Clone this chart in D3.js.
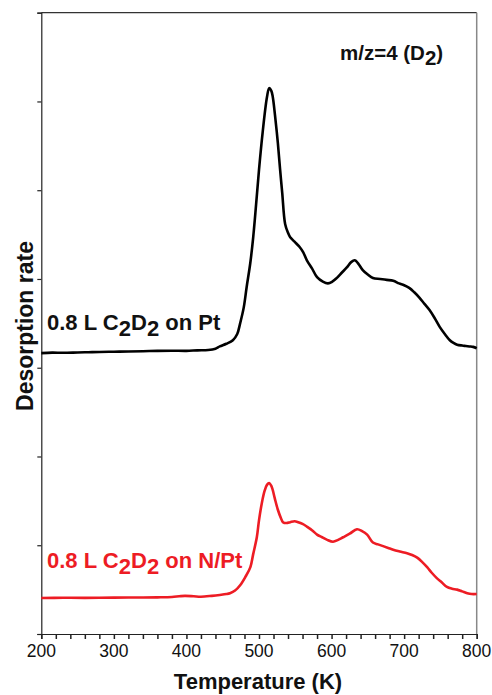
<!DOCTYPE html>
<html><head><meta charset="utf-8">
<script src="https://cdn.jsdelivr.net/npm/d3@7"></script>
<style>body{margin:0;background:#fff}svg{display:block}text{font-family:"Liberation Sans",Arial,sans-serif}</style>
</head><body><svg id="c" width="492" height="695"></svg>
<script>
// Temperature (K)
const blackT = [200,215,230,250,265,280,300,320,340,360,380,400,415,430,440,446,455,464,470,474,479,483,488,492,496,500,505,511,514,517,519,522,526,529,532,536,540,543,549,556,561,566,573,580,588,595,601,607,614,621,627,632,637,643,650,657,667,676,685,693,700,707,714,721,728,735,742,749,756,763,768,773,780,785,790,795,800];
const blackV = [3.165,3.17,3.168,3.172,3.175,3.178,3.18,3.183,3.186,3.19,3.192,3.19,3.196,3.2,3.215,3.24,3.27,3.31,3.38,3.5,3.68,3.91,4.18,4.47,4.84,5.23,5.65,6.05,6.15,6.12,6.05,5.85,5.53,5.24,4.97,4.62,4.52,4.47,4.42,4.36,4.3,4.21,4.12,4.02,3.97,3.95,3.97,4.01,4.07,4.13,4.19,4.21,4.17,4.1,4.05,4.01,4.0,3.99,3.98,3.95,3.93,3.9,3.85,3.79,3.72,3.65,3.56,3.46,3.38,3.31,3.28,3.26,3.25,3.245,3.24,3.235,3.22];
const redT = [200,230,260,300,330,360,380,390,398,410,420,435,446,455,460,467,474,481,488,492,497,500,504,508,511,514,517,519,522,526,530,533,538,543,549,554,560,566,573,580,587,594,602,609,616,625,635,642,649,657,664,671,678,685,694,704,711,718,725,732,738,745,752,759,766,773,780,787,793,800];
const redV = [0.406,0.408,0.407,0.41,0.411,0.413,0.417,0.425,0.43,0.425,0.42,0.43,0.44,0.45,0.46,0.49,0.55,0.64,0.75,0.9,1.09,1.28,1.48,1.62,1.68,1.7,1.67,1.62,1.52,1.4,1.31,1.26,1.25,1.26,1.27,1.26,1.24,1.21,1.17,1.12,1.09,1.06,1.04,1.06,1.09,1.13,1.18,1.16,1.12,1.03,1.01,0.99,0.97,0.95,0.93,0.91,0.89,0.86,0.81,0.75,0.69,0.63,0.58,0.53,0.51,0.5,0.48,0.46,0.45,0.45];
const xTicks = [200,300,400,500,600,700,800];
const yTicks = [0,1,2,3,4,5,6,7];

const svg = d3.select("#c");
const L = 41.3, R = 476.7, T = 12.7, B = 634;
const x = d3.scaleLinear().domain([200,800]).range([L,R]);
const y = d3.scaleLinear().domain([0,7]).range([B,T]);

// frame
svg.append("line").attr("x1",L).attr("x2",R).attr("y1",T).attr("y2",T).attr("stroke","#333").attr("stroke-width",1.2);
svg.append("line").attr("x1",R).attr("x2",R).attr("y1",T).attr("y2",B).attr("stroke","#888").attr("stroke-width",1.5);

// x axis
const xa = svg.append("g").attr("transform",`translate(0,${B})`)
  .call(d3.axisBottom(x).tickValues(d3.range(200,801,20)).tickSize(5).tickFormat(""));
xa.select(".domain").attr("stroke","#222").attr("stroke-width",1.2);
xa.selectAll(".tick line").attr("stroke","#222").attr("stroke-width",1.5);
svg.append("g").selectAll("text").data(xTicks).join("text")
  .attr("x",d=>x(d)).attr("y",657).attr("text-anchor","middle")
  .attr("font-size",17.5).attr("fill","#111").text(d=>d);

// y axis
const ya = svg.append("g").attr("transform",`translate(${L},0)`)
  .call(d3.axisLeft(y).tickValues(yTicks).tickSize(4).tickFormat(""));
ya.select(".domain").attr("stroke","#222").attr("stroke-width",1.2);
ya.selectAll(".tick line").attr("stroke","#222").attr("stroke-width",1.2);

// curves
const line = d3.line().x(d=>x(d[0])).y(d=>y(d[1])).curve(d3.curveCatmullRom);
svg.append("path").datum(blackT.map((t,i)=>[t,blackV[i]])).attr("d",line)
  .attr("fill","none").attr("stroke","#000").attr("stroke-width",2.6).attr("stroke-linejoin","round");
svg.append("path").datum(redT.map((t,i)=>[t,redV[i]])).attr("d",line)
  .attr("fill","none").attr("stroke","#ed1c24").attr("stroke-width",2.6).attr("stroke-linejoin","round");

// labels
function sublabel(xp, yp, parts, color, size, sh){
  const t = svg.append("text").attr("x",xp).attr("y",yp).attr("font-size",size).attr("font-weight","bold").attr("fill",color);
  parts.forEach(p=>{
    t.append("tspan").attr("dy", p.sub ? sh : (p.back ? -sh : 0)).text(p.s);
  });
  return t;
}
sublabel(47,330,[{s:"0.8 L C"},{s:"2",sub:true},{s:"D",back:true},{s:"2",sub:true},{s:" on Pt",back:true}],"#111",22,6);
sublabel(47,568,[{s:"0.8 L C"},{s:"2",sub:true},{s:"D",back:true},{s:"2",sub:true},{s:" on N/Pt",back:true}],"#ed1c24",22,6);
sublabel(340,60,[{s:"m/z=4 (D"},{s:"2",sub:true},{s:")",back:true}],"#111",20.5,5);

svg.append("text").attr("transform","translate(33,326) rotate(-90)").attr("text-anchor","middle")
  .attr("font-size",23).attr("font-weight","bold").attr("fill","#111").text("Desorption rate");
svg.append("text").attr("x",258).attr("y",688.5).attr("text-anchor","middle")
  .attr("font-size",22).attr("font-weight","bold").attr("fill","#111").text("Temperature (K)");
</script></body></html>
